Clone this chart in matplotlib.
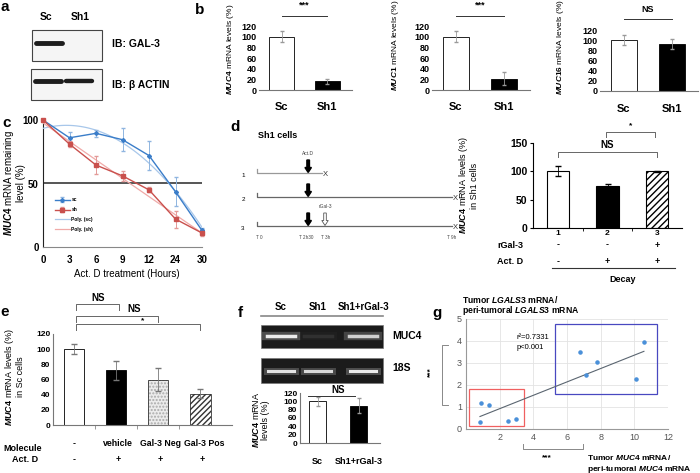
import numpy as np
import matplotlib.pyplot as plt
from matplotlib.patches import Rectangle, FancyArrow

plt.rcParams['font.family'] = ['Liberation Sans', 'DejaVu Sans']
plt.rcParams['font.weight'] = 'bold'
plt.rcParams['mathtext.fontset'] = 'custom'
plt.rcParams['mathtext.it'] = 'Liberation Sans:italic'
plt.rcParams['mathtext.rm'] = 'Liberation Sans'
plt.rcParams['hatch.linewidth'] = 1.0

# ---- data ----
# a: western blot band intensity per lane
blot_lanes = ['Sc', 'Sh1']
gal3_band = [1.0, 0.0]
actin_band = [1.0, 0.9]

# b: mRNA levels (%)
b_groups = ['Sc', 'Sh1']
muc4_b = [100, 16]
muc4_b_err = [10, 5]
muc1_b = [100, 21]
muc1_b_err = [10, 12]
muc16_b = [100, 93]
muc16_b_err = [10, 10]

# c: MUC4 remaining after Act. D
c_hours = ['0', '3', '6', '9', '12', '24', '30']
c_sc = [100, 86, 89.5, 84.5, 72, 43.5, 13]
c_sc_err = [0, 4.5, 3, 9, 11.5, 11.5, 2]
c_sh = [100, 81, 64.5, 56, 45, 22, 11]
c_sh_err = [0, 2.6, 7, 4, 2, 6.7, 2]

# d: Sh1 cells decay
d_groups = ['1', '2', '3']
d_vals = [100, 74, 100]
d_err = [9, 4, 1]
d_rgal = ['-', '-', '+']
d_actd = ['-', '+', '+']
d_times = ['T 0', 'T 2h30', 'T 3h', 'T 9h']
d_hours = [0, 2.5, 3, 9]
d_row_end = [3, 9, 9]

# e: Sc cells
e_vals = [100, 72, 60, 41]
e_err = [7, 12, 15, 6]
e_molecule = ['-', 'vehicle', 'Gal-3 Neg', 'Gal-3 Pos']
e_actd = ['-', '+', '+', '+']

# f: gel + MUC4 levels
gel_lanes = ['Sc', 'Sh1', 'Sh1+rGal-3']
muc4_gel = [0.9, 0.08, 0.75]
s18_gel = [0.85, 0.8, 0.9]
f_groups = ['Sc', 'Sh1+rGal-3']
f_vals = [100, 90]
f_err = [10, 19]

# g: correlation
g_x = [0.91, 1.35, 0.83, 2.48, 2.95, 6.75, 7.78, 7.11, 10.12, 10.57]
g_y = [1.2, 1.08, 0.32, 0.36, 0.47, 3.49, 3.05, 2.44, 2.27, 3.94]

W, H = 700, 473
fig = plt.figure(figsize=(7, 4.73), dpi=100)


def add_ax(x0, y0, x1, y1):
    return fig.add_axes([x0 / W, 1 - y1 / H, (x1 - x0) / W, (y1 - y0) / H])


# overlay in pixel units for letters, blots and schematic
ov = fig.add_axes([0, 0, 1, 1])
ov.set_xlim(0, W)
ov.set_ylim(H, 0)
ov.axis('off')

for lab, (x, y) in zip('abcdefg', [(5, 7), (200, 10), (7, 123), (235, 127),
                                   (5, 312), (240, 313), (437, 313)]):
    ov.text(x, y, lab, fontsize=11, ha='center', va='center')


def bracket(ax, x0, x1, y, drop, text, ty, fs=6.5, tx=None):
    ax.plot([x0, x0, x1, x1], [y - drop, y, y, y - drop], color='#666', lw=0.7, clip_on=False)
    if tx is None:
        tx = (x0 + x1) / 2
    ax.text(tx, ty, text, ha='center', va='center', fontsize=fs, clip_on=False)


# ---- a ----
lane_x = [49, 78]
for i, lab in enumerate(blot_lanes):
    ov.text(lane_x[i] - 3 + 5 * i, 17, lab, fontsize=7.5, ha='center', va='center')
ov.add_patch(Rectangle((32, 30), 70, 31, fc='#f5f5f5', ec='#444', lw=0.8))
ov.add_patch(Rectangle((31, 69), 71, 31, fc='#f5f5f5', ec='#444', lw=0.8))
for i, v in enumerate(gal3_band):
    if v > 0:
        ov.plot([lane_x[i] - 13, lane_x[i] + 13], [43, 43], color='#111', lw=3.5 * v,
                solid_capstyle='round', alpha=0.95)
for i, v in enumerate(actin_band):
    ov.plot([lane_x[i] - 14 + 2 * i, lane_x[i] + 12 + 2 * i], [81, 81], color='#111', lw=3.5 * v,
            solid_capstyle='round', alpha=0.95)
ov.text(112, 44, 'IB: GAL-3', fontsize=7.5, va='center')
ov.text(112, 85, 'IB: β ACTIN', fontsize=7.5, va='center')


# ---- b ----
def bar_b(rect, vals, errs, gene, lab_x, lab_y, sig, line_y, text_y):
    ax = add_ax(*rect)
    x = np.arange(len(b_groups))
    ax.bar(x, vals, width=0.55, color=['white', 'black'], edgecolor='black', lw=0.6)
    ax.errorbar(x, vals, yerr=errs, fmt='none', ecolor='#999', elinewidth=0.6, capsize=1.5)
    ax.set_xlim(-0.5, 1.55)
    ax.set_ylim(0, 120)
    ax.set_yticks(range(0, 121, 20))
    ax.set_xticks(x, b_groups)
    ax.tick_params(axis='y', length=0, pad=1.5, labelsize=6.5)
    ax.tick_params(axis='x', length=0, pad=9, labelsize=8)
    for s in ['top', 'right', 'left']:
        ax.spines[s].set_visible(False)
    ax.spines['bottom'].set_color('#777')
    ax.set_ylabel(r'$\mathit{' + gene + '}$ mRNA levels (%)', fontsize=6)
    ax.yaxis.set_label_coords(lab_x, lab_y)
    ax.plot([0, 1], [line_y, line_y], color='#333', lw=0.7, clip_on=False)
    ax.text(0.5, text_y, sig, ha='center', va='center', fontsize=6.5)
    return ax


bar_b((259, 26, 352, 90), muc4_b, muc4_b_err, 'MUC4', -0.25, 0.64, '***', 139, 159)
bar_b((432, 26, 530, 90), muc1_b, muc1_b_err, 'MUC1', -0.32, 0.7, '***', 139, 159)
bar_b((600, 30, 698, 91), muc16_b, muc16_b_err, 'MUC16', -0.35, 0.72, 'NS', 142, 161)

# ---- c ----
ax = add_ax(43, 120, 202, 247)
xc = np.arange(len(c_hours))
blue, red = '#3a7dc9', '#c9504d'
h_sc = ax.errorbar(xc, c_sc, yerr=c_sc_err, color=blue, marker='D', ms=2, lw=1, ecolor='#8fb5e0',
                   elinewidth=0.7, capsize=1.5, clip_on=False, zorder=4)
h_sh = ax.errorbar(xc, c_sh, yerr=c_sh_err, color=red, marker='s', ms=2.2, lw=1, ecolor='#e39a98',
                   elinewidth=0.7, capsize=1.5, clip_on=False, zorder=4)
xs = np.linspace(0, len(c_hours) - 1, 100)
p_sc = np.polyfit(xc, c_sc, 2)
p_sh = np.polyfit(xc, c_sh, 2)
h_psc, = ax.plot(xs, np.polyval(p_sc, xs), color='#a8c7ea', lw=0.9, zorder=3)
h_psh, = ax.plot(xs, np.polyval(p_sh, xs), color='#f0aaa8', lw=0.9, zorder=3)
ax.axhline(50, color='#555', lw=1.4, zorder=2)
ax.set_xlim(0, len(c_hours) - 1)
ax.set_ylim(0, 100)
ax.set_yticks([0, 50, 100])
ax.set_xticks(xc, c_hours)
ax.tick_params(axis='y', length=0, pad=3, labelsize=7)
ax.tick_params(axis='x', length=0, pad=6, labelsize=7)
ax.spines[['top', 'right']].set_visible(False)
ax.spines['left'].set_color('#222')
ax.spines['bottom'].set_color('#888')
ax.set_ylabel(r'$\mathit{MUC4}$ mRNA remaining' + '\nlevel (%)', fontsize=7, linespacing=1.0)
ax.yaxis.set_label_coords(-0.11, 0.5)
ax.set_xlabel('Act. D treatment (Hours)', fontsize=7)
ax.xaxis.set_label_coords(0.53, -0.17)
ax.legend([h_sc, h_sh, h_psc, h_psh], ['sc', 'sh', 'Poly. (sc)', 'Poly. (sh)'],
          loc='upper left', bbox_to_anchor=(0.06, 0.41), frameon=False, fontsize=3.5,
          handlelength=3, labelspacing=1.0, borderpad=0, handletextpad=0.4)

# ---- d schematic ----
ov.text(258, 135, 'Sh1 cells', fontsize=6.5, va='center')
t_px = [257 + h * 21.67 for h in d_hours]
row_y = [173, 197, 226]
for i, y in enumerate(row_y):
    xe = 257 + d_row_end[i] * 21.67
    col = '#999' if i == 0 else '#666'
    ov.plot([257, 257, xe], [y - 4, y, y], color=col, lw=0.9)
    ov.text(xe + 1, y + 1, 'X', fontsize=5.5, fontweight='normal', va='center', color='#333')
    ov.text(243, y + 2, d_groups[i], fontsize=4.5, fontweight='normal', va='center', ha='center')
    ov.add_patch(FancyArrow(t_px[1] - 3, y - 13, 0, 12.5, width=2.6, head_width=6.5,
                            head_length=5, length_includes_head=True, fc='black', ec='black'))
    if d_rgal[i] == '+':
        ov.add_patch(FancyArrow(t_px[2] + 3, y - 13, 0, 12.5, width=2.6, head_width=6.5,
                                head_length=5, length_includes_head=True, fc='white',
                                ec='#555', lw=0.6))
        ov.text(t_px[2] + 3, y - 20, 'rGal-3', fontsize=3.5, fontweight='normal', ha='center',
                va='center', color='#444')
ov.text(t_px[1] - 3, row_y[0] - 20, 'Act.D', fontsize=3.5, fontweight='normal', ha='center',
        va='center', color='#444')
t_ha = ['center', 'right', 'left', 'center']
t_off = [2, 2, -1, 0]
for tx, tl, ha, off in zip(t_px, d_times, t_ha, t_off):
    ov.text(tx + off, 237, tl, fontsize=3.3, fontweight='normal', ha=ha, va='center',
            color='#444')

# ---- d bars ----
ax = add_ax(533, 143, 682, 228)
xd = np.arange(len(d_groups))
ax.bar(xd[:2], d_vals[:2], width=0.45, color=['white', 'black'], edgecolor='black', lw=0.8)
ax.bar(xd[2], d_vals[2], width=0.45, color='white', edgecolor='black', hatch='/////', lw=0)
ax.bar(xd[2], d_vals[2], width=0.45, fill=False, edgecolor='black', lw=0.8)
ax.errorbar(xd, d_vals, yerr=d_err, fmt='none', ecolor='black', elinewidth=0.6, capsize=2)
ax.set_xlim(-0.505, 2.505)
ax.set_ylim(0, 150)
ax.set_yticks([0, 50, 100, 150])
ax.set_xticks(xd, d_groups)
ax.set_xticks([0.5, 1.5], minor=True)
ax.tick_params(axis='y', length=2, pad=2, labelsize=7.5)
ax.tick_params(axis='x', which='major', length=0, pad=1.5, labelsize=6)
ax.tick_params(axis='x', which='minor', length=2)
ax.spines[['top', 'right']].set_visible(False)
ax.set_ylabel(r'$\mathit{MUC4}$ mRNA levels (%)' + '\nin Sh1 cells', fontsize=6.5,
              linespacing=1.0)
ax.yaxis.set_label_coords(-0.36, 0.5)
ax.text(-0.7, -0.2, 'rGal-3', transform=ax.get_xaxis_transform(), ha='right', va='center',
        fontsize=6.5)
ax.text(-0.7, -0.39, 'Act. D', transform=ax.get_xaxis_transform(), ha='right', va='center',
        fontsize=6.5)
for i in xd:
    ax.text(i, -0.2, d_rgal[i], transform=ax.get_xaxis_transform(), ha='center', va='center',
            fontsize=6.5)
    ax.text(i, -0.39, d_actd[i], transform=ax.get_xaxis_transform(), ha='center', va='center',
            fontsize=6.5)
ax.plot([-0.12, 2.36], [-0.47, -0.47], color='#333', lw=0.8, transform=ax.get_xaxis_transform(),
        clip_on=False)
ax.text(1.31, -0.6, 'Decay', transform=ax.get_xaxis_transform(), ha='center', va='center',
        fontsize=6.5)
bracket(ax, 0, 2, 134, 8, 'NS', 147, 7)
bracket(ax, 0.97, 1.96, 169, 8, '*', 180, 6)

# ---- e ----
ax = add_ax(53, 334, 232, 425)
xe = np.arange(len(e_vals))
ax.bar(xe[:2], e_vals[:2], width=0.48, color=['white', 'black'], edgecolor='black', lw=0.6)
ax.bar(xe[2], e_vals[2], width=0.48, color='#ececec', edgecolor='#aaa', hatch='.....', lw=0)
ax.bar(xe[3], e_vals[3], width=0.48, color='white', edgecolor='#333', hatch='//////', lw=0)
ax.bar(xe[2:], e_vals[2:], width=0.48, fill=False, edgecolor='#333', lw=0.6)
ax.errorbar(xe, e_vals, yerr=e_err, fmt='none', ecolor='#777', elinewidth=0.6, capsize=2)
ax.set_xlim(-0.5, 3.75)
ax.set_ylim(0, 120)
ax.set_yticks(range(0, 121, 20))
ax.set_xticks([])
ax.set_xticks([0.5, 1.5, 2.5], minor=True)
ax.tick_params(axis='y', length=0, pad=2, labelsize=6)
ax.tick_params(axis='x', which='minor', length=3, color='#888')
ax.spines[['top', 'right']].set_visible(False)
ax.spines[['left', 'bottom']].set_color('#777')
ax.set_ylabel(r'$\mathit{MUC4}$ mRNA levels (%)' + '\nin Sc cells', fontsize=6.5,
              linespacing=1.0)
ax.yaxis.set_label_coords(-0.155, 0.53)
for i in xe:
    ax.text(i + 0.03 * i, -0.2, e_molecule[i], transform=ax.get_xaxis_transform(), ha='center',
            va='center', fontsize=6.3)
    ax.text(i + 0.05 * (i > 0), -0.38, e_actd[i], transform=ax.get_xaxis_transform(),
            ha='center', va='center', fontsize=6.5)
ov.text(23, 448, 'Molecule', fontsize=6.5, ha='center', va='center')
ov.text(25, 459, 'Act. D', fontsize=6.5, ha='center', va='center')
bracket(ax, 0.05, 1.07, 159.6, 8, 'NS', 167.5, 7)
bracket(ax, 0.05, 2.0, 143.7, 8, 'NS', 153, 7, tx=1.42)
bracket(ax, 0.05, 3.0, 133, 8, '*', 138, 6, tx=1.63)

# ---- f gel ----
gel_x = [281, 318, 363]
for i, lab in enumerate(gel_lanes):
    ov.text(gel_x[i], 307, lab, fontsize=7, ha='center', va='center')
ov.plot([261, 383], [316, 316], color='#888', lw=1.2)
ov.add_patch(Rectangle((261, 325), 122, 23, fc='#1b1b1b', ec='#777', lw=0.5))
ov.add_patch(Rectangle((261, 358), 122, 25, fc='#1b1b1b', ec='#777', lw=0.5))
for i, v in enumerate(muc4_gel):
    ov.plot([gel_x[i] - 15, gel_x[i] + 15], [336, 336], color='white', lw=6, alpha=0.25 * v)
    ov.plot([gel_x[i] - 14, gel_x[i] + 14], [336, 336], color='white', lw=2.5, alpha=v)
for i, v in enumerate(s18_gel):
    ov.plot([gel_x[i] - 14, gel_x[i] + 14], [371, 371], color='white', lw=5, alpha=0.25 * v)
    ov.plot([gel_x[i] - 13, gel_x[i] + 13], [371, 371], color='white', lw=2.2, alpha=v)
ov.text(392, 336, 'MUC4', fontsize=7.5, va='center')
ov.text(392, 368, '18S', fontsize=7.5, va='center')

# ---- f bars ----
ax = add_ax(300, 393, 380, 443)
xf = np.arange(len(f_groups))
ax.bar(xf, f_vals, width=0.42, color=['white', 'black'], edgecolor='black', lw=0.6)
ax.errorbar(xf, f_vals, yerr=f_err, fmt='none', ecolor='#999', elinewidth=0.6, capsize=1.5)
ax.set_xlim(-0.43, 1.52)
ax.set_ylim(0, 120)
ax.set_yticks(range(0, 121, 20))
ax.set_xticks(xf, f_groups)
ax.tick_params(axis='y', length=0, pad=2, labelsize=6)
ax.tick_params(axis='x', length=0, pad=10, labelsize=6.5)
ax.spines[['top', 'right']].set_visible(False)
ax.spines[['left', 'bottom']].set_color('#777')
ax.set_ylabel(r'$\mathit{MUC4}$ mRNA' + '\nlevels (%)', fontsize=6.5, linespacing=1.0)
ax.yaxis.set_label_coords(-0.37, 0.46)
ax.plot([-0.23, 0.91], [113, 113], color='#333', lw=0.7, clip_on=False)
ax.text(0.5, 127, 'NS', ha='center', va='center', fontsize=7)

# ---- g ----
ax = add_ax(466, 319, 668, 429)
ax.scatter(g_x, g_y, s=5, color='#4a90d9', zorder=3)
coef = np.polyfit(g_x, g_y, 1)
xl = np.array([min(g_x), max(g_x)])
ax.plot(xl, np.polyval(coef, xl), color='#5a6570', lw=0.8, zorder=2)
ax.set_xlim(0, 12)
ax.set_ylim(0, 5)
ax.set_xticks([2, 4, 6, 8, 10, 12])
ax.set_yticks(range(6))
ax.grid(color='#e3e3e3', lw=0.6)
ax.set_axisbelow(True)
ax.tick_params(length=0, labelsize=6.5, labelcolor='#555', pad=3)
for t in ax.get_xticklabels() + ax.get_yticklabels():
    t.set_fontweight('normal')
ax.spines[['top', 'right']].set_visible(False)
ax.spines[['left', 'bottom']].set_color('#999')
ax.add_patch(Rectangle((0.2, 0.12), 3.24, 1.68, fill=False, ec='#f06060', lw=0.9))
ax.add_patch(Rectangle((5.3, 1.6), 6.06, 3.15, fill=False, ec='#4848c0', lw=0.9))
ax.text(3.0, 4.15, 'r²=0.7331', fontsize=5.5, fontweight='normal', va='center')
ax.text(3.0, 3.7, 'p<0.001', fontsize=5.5, fontweight='normal', va='center')
ov.text(462, 299, r'Tumor $\mathit{LGALS3}$ mRNA/', fontsize=6.2, va='center')
ov.text(462, 310, r'peri-tumoral $\mathit{LGALS3}$ mRNA', fontsize=6.2, va='center')
ov.text(587, 457, r'Tumor $\mathit{MUC4}$ mRNA/', fontsize=6, va='center')
ov.text(587, 469, r'peri-tumoral $\mathit{MUC4}$ mRNA', fontsize=6, va='center')
ov.plot([448, 442, 442, 448], [345, 345, 405, 405], color='#888', lw=0.7)
ov.text(431, 372, '***', fontsize=6, rotation=90, ha='center', va='center')
ov.plot([523, 523, 583, 583], [444, 449, 449, 444], color='#888', lw=0.7)
ov.text(547, 458, '***', fontsize=6, ha='center', va='center')

fig.savefig('out.png', dpi=100)
